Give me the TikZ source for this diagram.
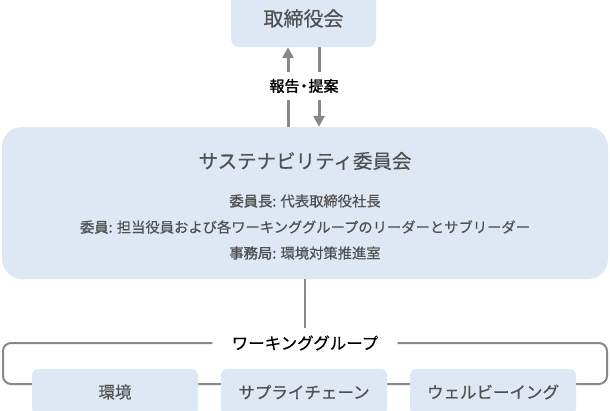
\documentclass[tikz,border=0pt]{standalone}
\usepackage{fontspec}
\setmainfont{Noto Sans CJK JP}[FakeBold=0.5, BoldFont=Noto Sans CJK JP, BoldFeatures={FakeBold=1.6}]
\usetikzlibrary{arrows.meta}
\definecolor{boxblue}{RGB}{222,232,244}
\definecolor{txtgray}{RGB}{80,80,80}
\definecolor{linegray}{RGB}{136,136,136}
\tikzset{
  bluebox/.style={fill=boxblue, rounded corners=8pt, text=txtgray, inner sep=0pt},
  flowarrow/.style={linegray, line width=3pt, -{Triangle[width=11pt,length=11pt]}},
  link/.style={linegray, line width=2pt},
  memberline/.style={text=txtgray, font=\fontsize{14.3}{17}\selectfont},
  groupbox/.style={bluebox, rounded corners=6pt, minimum width=166pt, minimum height=46pt, font=\fontsize{16.5}{19}\selectfont},
}
\begin{document}
\begin{tikzpicture}[x=1pt,y=-1pt]
\useasboundingbox (0,0) rectangle (610,410);
% Torishimariyakukai
\node[bluebox, minimum width=145pt, minimum height=57pt, font=\fontsize{20}{22}\selectfont] (board) at (303.5,18.5) {\raisebox{-3pt}{取締役会}};
% Iinkai
\node[bluebox, rounded corners=20pt, minimum width=606pt, minimum height=152pt] (committee) at (305,203) {};
\node[text=txtgray, font=\fontsize{19.5}{22}\selectfont] (title) at (305,161) {サステナビリティ委員会};
\node[memberline] (chair) at (305,201) {\textbf{委員長:} 代表取締役社長};
\node[memberline] (members) at (305,227) {\textbf{委員:} 担当役員および各ワーキンググループのリーダーとサブリーダー};
\node[memberline] (office) at (305,253) {\textbf{事務局:} 環境対策推進室};
% Houkoku / teian
\draw[flowarrow] ([xshift=-15.5pt]board.south |- committee.north) -- ([xshift=-15.5pt]board.south);
\draw[flowarrow] ([xshift=15.5pt]board.south) -- ([xshift=15.5pt]board.south |- committee.north);
\node[fill=white, minimum height=28pt, inner xsep=1pt, font=\fontsize{15}{17}\selectfont\bfseries] (report) at (304,86) {報告\kern-3pt・\kern-3pt 提案};
% Working groups
\node[fill=white, minimum width=185pt, minimum height=30pt, inner sep=0pt, font=\fontsize{16.5}{19}\selectfont] (wg) at (305,343) {ワーキンググループ};
\draw[link] (committee.south) -- (wg.north);
\draw[link, rounded corners=8pt] (wg.west) -- (3,343) -- (3,384) -- (607,384) -- (607,343) -- (wg.east);
\node[groupbox] (env) at (115,392) {環境};
\node[groupbox] (supply) at (304,392) {サプライチェーン};
\node[groupbox] (wellbeing) at (493,392) {ウェルビーイング};
\end{tikzpicture}
\end{document}
